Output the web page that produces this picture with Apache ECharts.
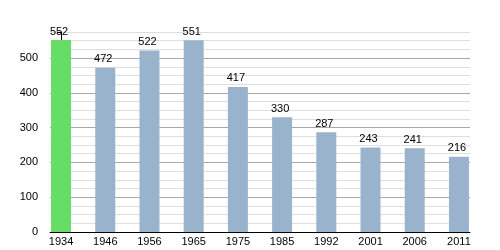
<!DOCTYPE html>
<html>
<head>
<meta charset="utf-8">
<script src="https://cdn.jsdelivr.net/npm/echarts@6/dist/echarts.min.js"></script>
<style>html,body{margin:0;padding:0;background:#fff}#c{width:500px;height:250px}</style>
</head>
<body>
<div id="c"></div>
<script>
const years = ['1934','1946','1956','1965','1975','1985','1992','2001','2006','2011'];
const population = [552, 472, 522, 551, 417, 330, 287, 243, 241, 216];
const yTickLabels = [0, 100, 200, 300, 400, 500];
const barColors = ['#66dd66','#9ab3cd','#9ab3cd','#9ab3cd','#9ab3cd','#9ab3cd','#9ab3cd','#9ab3cd','#9ab3cd','#9ab3cd'];

const chart = echarts.init(document.getElementById('c'), null, {renderer: 'canvas'});
const idx = years.map((_, i) => i);
chart.setOption({
  animation: false,
  backgroundColor: '#ffffff',
  textStyle: {fontFamily: 'Liberation Sans, Arial, sans-serif'},
  grid: {left: 50, right: 30, top: 32, bottom: 18, containLabel: false},
  xAxis: {
    type: 'value',
    min: -0.25,
    max: years.length - 0.75,
    axisLine: {show: true, onZero: false, lineStyle: {color: '#000', width: 1}},
    axisTick: {show: false},
    splitLine: {show: false},
    axisLabel: {
      customValues: idx,
      color: '#000',
      fontSize: 11,
      margin: 4,
      formatter: v => years[Math.round(v)]
    }
  },
  yAxis: {
    type: 'value',
    min: 0,
    max: 575,
    interval: 25,
    axisLine: {show: true, lineStyle: {color: '#000', width: 1}},
    axisTick: {show: true, length: 4, lineStyle: {color: '#000'}},
    axisLabel: {
      color: '#000',
      fontSize: 11,
      margin: 12,
      formatter: v => (yTickLabels.indexOf(v) >= 0 ? String(v) : '')
    },
    splitLine: {show: true, lineStyle: {color: ['#a8a8a8', '#dedede', '#dedede', '#dedede'], width: 1}}
  },
  series: [{
    type: 'bar',
    barWidth: 20,
    data: population.map((v, i) => ({value: [i, v], itemStyle: {color: barColors[i]}})),
    label: {
      show: true,
      position: 'top',
      distance: 3,
      color: '#000',
      fontSize: 11,
      offset: [-2, 0],
      formatter: p => String(p.value[1])
    }
  }]
});
</script>
</body>
</html>
